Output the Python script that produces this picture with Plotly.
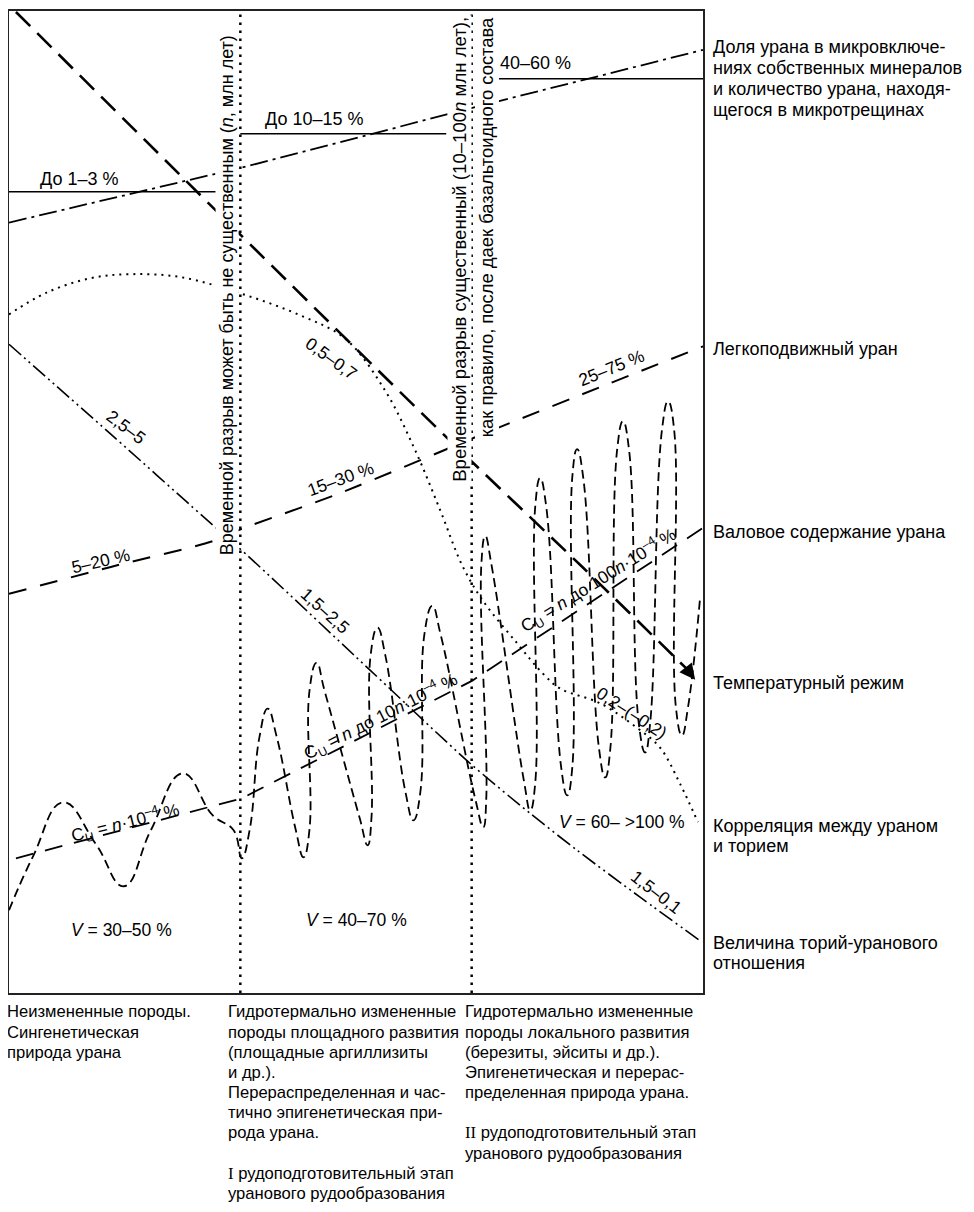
import plotly.graph_objects as go

# ---------------- data (x: stage units 0..3, y: relative level 0..100) ----------------
stage_bounds = [1.0, 2.0]

# Доля урана в микровключениях (dash-dot)
share_x = [0.0, 1.006, 2.003, 3.0]
share_y = [78.45, 84.05, 90.14, 96.04]

# horizontal solid levels with labels
level_x0 = [0.0, 1.0, 2.11]
level_x1 = [0.894, 1.89, 3.0]
level_y = [81.6, 87.5, 93.1]
level_text = ["До 1–3 %", "До 10–15 %", "40–60 %"]
level_lx = [0.302, 1.317, 2.275]
level_ly = [82.85, 89.0, 94.75]

# Температурный режим (bold dashed with arrow)
temp_x = [0.030, 1.001, 1.895, 2.482, 2.930]
temp_y = [99.9, 77.2, 56.5, 43.3, 33.0]
temp_tip = (2.966, 31.9)

# Корреляция между ураном и торием (dotted)
corr_x = [0.0, 0.160, 0.354, 0.527, 0.742, 1.006, 1.260, 1.455, 1.627, 1.757, 1.865,
          1.960, 2.050, 2.197, 2.309, 2.383, 2.555, 2.715, 2.814, 2.901, 2.978]
corr_y = [69.1, 71.3, 72.8, 73.2, 72.9, 71.2, 69.0, 66.6, 61.3, 55.2, 49.1,
          43.5, 39.9, 35.6, 32.5, 31.0, 29.5, 27.0, 25.0, 21.3, 17.4]

# Величина торий-уранового отношения (dash-dot-dot)
thu_x = [0.0, 0.440, 0.885, 1.023, 1.563, 1.994, 2.253, 2.456, 2.728, 2.996]
thu_y = [66.06, 56.91, 47.56, 44.72, 32.83, 23.37, 18.29, 14.53, 9.76, 5.18]

# Легкоподвижный уран (long dashes)
mob_x = [0.0, 0.440, 0.885, 1.006, 1.420, 2.111, 2.555, 3.0]
mob_y = [40.65, 43.39, 46.04, 47.26, 50.81, 57.52, 61.69, 65.85]

# Валовое содержание урана: mean level (C_U) and oscillating curve
cu_x = [0.030, 1.006, 2.003, 3.0]
cu_y = [13.72, 19.82, 31.81, 47.36]

osc_x = [0.000, 0.104, 0.233, 0.376, 0.496, 0.613, 0.751, 0.881,
         0.971, 1.006, 1.040, 1.083, 1.118, 1.157, 1.239, 1.273, 1.299,
         1.299, 1.330, 1.364, 1.515, 1.550, 1.567, 1.563, 1.593, 1.627,
         1.714, 1.748, 1.778, 1.796, 1.830, 1.865, 2.016, 2.050, 2.063,
         2.042, 2.059, 2.085, 2.227, 2.253, 2.275, 2.275, 2.296, 2.322,
         2.387, 2.413, 2.435, 2.435, 2.456, 2.482, 2.551, 2.577, 2.599,
         2.629, 2.654, 2.680, 2.723, 2.750, 2.771, 2.823, 2.849, 2.875,
         2.883, 2.909, 2.935, 2.987]
osc_y = [8.43, 13.92, 19.41, 15.14, 10.87, 16.57, 22.36, 18.09,
         16.57, 13.72, 16.57, 26.11, 28.96, 26.11, 16.67, 13.82, 16.67,
         30.79, 33.64, 30.79, 17.89, 15.04, 17.89, 34.35, 37.20, 34.35,
         20.43, 17.58, 20.43, 36.58, 39.43, 36.58, 19.72, 16.87, 19.72,
         43.69, 46.54, 43.69, 21.45, 18.60, 21.45, 49.59, 52.44, 49.59,
         22.97, 20.12, 22.97, 52.54, 55.39, 52.54, 24.80, 21.95, 24.80,
         55.38, 58.23, 55.38, 27.34, 24.49, 27.34, 57.41, 60.26, 57.41,
         29.07, 26.22, 29.07, 40.14]

# in-chart labels: text, x, y, angle
line_labels = [
    ("0,5–0,7", 1.390, 64.63, 36),
    ("2,5–5", 0.505, 57.62, 37),
    ("1,5–2,5", 1.368, 38.92, 42),
    ("1,5–0,1", 2.797, 10.26, 38),
    ("0,2–(–0,2)", 2.693, 28.56, 33),
    ("5–20 %", 0.397, 44.0, -13),
    ("15–30 %", 1.433, 52.34, -20),
    ("25–75 %", 2.603, 63.62, -22),
    ("C<sub>U</sub> = <i>n</i>·10<sup>–4</sup> %", 0.505, 17.38, -14),
    ("C<sub>U</sub> = <i>n</i> до 10<i>n</i>·10<sup>–4</sup> %", 1.606, 28.15, -27),
    ("C<sub>U</sub> = <i>n</i> до 100<i>n</i>·10<sup>–4</sup> %", 2.547, 41.97, -32),
    ("<i>V</i> = 30–50 %", 0.488, 6.40, 0),
    ("<i>V</i> = 40–70 %", 1.502, 7.42, 0),
    ("<i>V</i> = 60– >100 %", 2.650, 17.38, 0),
]

# right-side captions: one entry per text line (text, paper y)
right_x = 1.0115
right_lines = [
    ("Доля урана в микровключе-", 0.9634),
    ("ниях собственных минералов", 0.9421),
    ("и количество урана, находя-", 0.9207),
    ("щегося в микротрещинах", 0.8994),
    ("Легкоподвижный уран", 0.6555),
    ("Валовое содержание урана", 0.4695),
    ("Температурный режим", 0.3161),
    ("Корреляция между ураном", 0.1697),
    ("и торием", 0.1494),
    ("Величина торий-уранового", 0.0508),
    ("отношения", 0.0305),
]

# bottom captions: columns of lines ("" = empty line)
bottom_top = -0.0193      # paper y of first line centre
bottom_pitch = 0.02053    # paper units between lines
bottom_cols_x = [-0.0058, 0.3127, 0.6542]
serif = '<span style="font-family:Liberation Serif">'
bottom_cols = [
    ["Неизмененные породы.", "Сингенетическая", "природа урана"],
    ["Гидротермально измененные", "породы площадного развития", "(площадные аргиллизиты",
     "и др.).", "Перераспределенная и час-", "тично эпигенетическая при-", "рода урана.", "",
     serif + "I</span> рудоподготовительный этап", "уранового рудообразования"],
    ["Гидротермально измененные", "породы локального развития", "(березиты, эйситы и др.).",
     "Эпигенетическая и перерас-", "пределенная природа урана.", "",
     serif + "II</span> рудоподготовительный этап", "уранового рудообразования"],
]

# divider captions
div_text_1 = "Временной разрыв может быть не существенным (<i>n</i>, млн лет)"
div_text_2a = "Временной разрыв существенный (10–100<i>n</i> млн лет),"
div_text_2b = "как правило, после даек базальтоидного состава"

# ---------------- figure ----------------
FONT = "Liberation Sans, Arial, sans-serif"
fig = go.Figure()

def add_line(x, y, dash, width, shape="linear", smoothing=1.0):
    fig.add_trace(go.Scatter(
        x=x, y=y, mode="lines", hoverinfo="skip", showlegend=False,
        line=dict(color="black", width=width, dash=dash, shape=shape,
                  smoothing=smoothing if shape == "spline" else None)))

# dividers
for xb in stage_bounds:
    add_line([xb, xb], [0, 100], "2.5px,5.5px", 2.5)

add_line(share_x, share_y, "18px,5px,3px,5px", 1.8)
for x0, x1, yl in zip(level_x0, level_x1, level_y):
    add_line([x0, x1], [yl, yl], "solid", 1.6)

add_line(temp_x, temp_y, "20px,10px", 2.6, "spline", 0.6)
add_line(corr_x, corr_y, "2px,5px", 2.0, "spline", 1.0)
add_line(thu_x, thu_y, "16px,4px,2px,4px,2px,4px", 1.6, "spline", 0.8)
add_line(mob_x, mob_y, "18px,14px", 2.0, "spline", 0.8)
add_line(cu_x, cu_y, "18px,12px", 1.8)
add_line(osc_x, osc_y, "9px,5px", 1.8, "spline", 1.3)

ann = []
# arrow head of temperature line
ann.append(dict(x=temp_tip[0], y=temp_tip[1], ax=temp_x[-1], ay=temp_y[-1],
                xref="x", yref="y", axref="x", ayref="y", text="", showarrow=True,
                arrowhead=2, arrowsize=1.3, arrowwidth=2.4, arrowcolor="black"))

for txt, lx, ly in zip(level_text, level_lx, level_ly):
    ann.append(dict(x=lx, y=ly, text=txt, showarrow=False, xref="x", yref="y",
                    font=dict(size=18, color="black", family=FONT)))

for txt, lx, ly, ang in line_labels:
    ann.append(dict(x=lx, y=ly, text=txt, showarrow=False, xref="x", yref="y",
                    textangle=ang, font=dict(size=17.5, color="black", family=FONT)))

for txt, ly in right_lines:
    ann.append(dict(x=right_x, y=ly, text=txt, showarrow=False, xref="paper", yref="paper",
                    xanchor="left", yanchor="middle", align="left",
                    font=dict(size=18, color="black", family=FONT)))

for cx, lines in zip(bottom_cols_x, bottom_cols):
    for i, txt in enumerate(lines):
        if not txt:
            continue
        ann.append(dict(x=cx, y=bottom_top - i * bottom_pitch, text=txt, showarrow=False,
                        xref="paper", yref="paper", xanchor="left", yanchor="middle",
                        align="left", font=dict(size=16.6, color="black", family=FONT)))

# vertical captions along dividers
ann.append(dict(x=0.941, y=97.7, text=div_text_1, textangle=-90, showarrow=False,
                xref="x", yref="y", xanchor="center", yanchor="top", bgcolor="white",
                font=dict(size=18, color="black", family=FONT)))
ann.append(dict(x=1.947, y=99.6, text=div_text_2a, textangle=-90, showarrow=False,
                xref="x", yref="y", xanchor="center", yanchor="top", bgcolor="white",
                font=dict(size=18.6, color="black", family=FONT)))
ann.append(dict(x=2.068, y=99.6, text=div_text_2b, textangle=-90, showarrow=False,
                xref="x", yref="y", xanchor="center", yanchor="top", bgcolor="white",
                font=dict(size=18.4, color="black", family=FONT)))

axis_common = dict(showgrid=False, zeroline=False, showticklabels=False, ticks="",
                   showline=True, mirror=True, linecolor="#222", linewidth=1.6, fixedrange=True)
fig.update_layout(
    width=966, height=1204, autosize=False,
    margin=dict(l=1, r=271, t=1, b=219),
    paper_bgcolor="white", plot_bgcolor="white",
    xaxis=dict(range=[0, 3], **axis_common),
    yaxis=dict(range=[0, 100], **axis_common),
    annotations=ann, showlegend=False,
    font=dict(family=FONT, color="black"),
)
fig.write_html("out.html")
